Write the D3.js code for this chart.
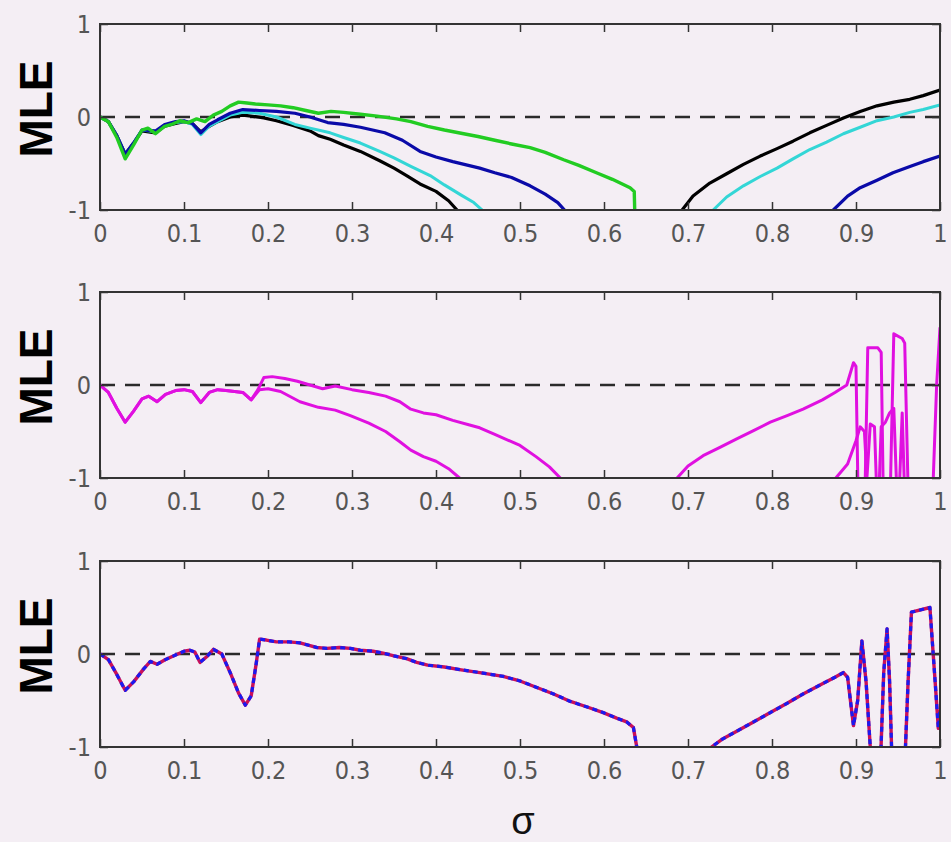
<!DOCTYPE html>
<html>
<head>
<meta charset="utf-8">
<script src="https://cdn.jsdelivr.net/npm/d3@7"></script>
<style>
  html, body { margin: 0; padding: 0; background: #f4eef4; }
  svg { display: block; }
  .tick text { font-family: "Liberation Sans Narrow", "Arial Narrow", "DejaVu Sans Condensed", sans-serif; font-size: 25px; fill: #555; }
</style>
</head>
<body>
<div id="chart"></div>
<script>
// tick values / labels
const xTicks = [0, 0.1, 0.2, 0.3, 0.4, 0.5, 0.6, 0.7, 0.8, 0.9, 1];
const xTickLabels = ["0", "0.1", "0.2", "0.3", "0.4", "0.5", "0.6", "0.7", "0.8", "0.9", "1"];
const yTicks = [-1, 0, 1];
const yTickLabels = ["-1", "0", "1"];

// panel 1 : [sigma, MLE]  (values below -1 run off the axes)
const p1Black = [[0,0],[0.01,-0.05],[0.02,-0.2],[0.03,-0.4],[0.04,-0.28],[0.05,-0.15],[0.066,-0.17],[0.077,-0.1],[0.09,-0.07],[0.1,-0.05],[0.11,-0.07],[0.12,-0.16],[0.13,-0.1],[0.14,-0.05],[0.155,0.0],[0.17,0.02],[0.18,0.01],[0.195,-0.01],[0.21,-0.04],[0.23,-0.09],[0.25,-0.15],[0.26,-0.2],[0.274,-0.24],[0.29,-0.3],[0.31,-0.37],[0.333,-0.47],[0.35,-0.55],[0.365,-0.63],[0.381,-0.72],[0.4,-0.8],[0.415,-0.9],[0.425,-1.0],[0.44,-1.5],[0.685,-1.5],[0.693,-1.0],[0.706,-0.85],[0.726,-0.71],[0.746,-0.61],[0.766,-0.51],[0.786,-0.42],[0.806,-0.34],[0.825,-0.26],[0.845,-0.17],[0.865,-0.09],[0.885,-0.01],[0.905,0.06],[0.925,0.12],[0.945,0.16],[0.964,0.19],[0.98,0.23],[1.0,0.29]];
const p1Cyan = [[0,0],[0.01,-0.05],[0.02,-0.2],[0.03,-0.4],[0.04,-0.28],[0.05,-0.14],[0.066,-0.16],[0.077,-0.09],[0.09,-0.06],[0.1,-0.05],[0.11,-0.08],[0.12,-0.19],[0.13,-0.1],[0.14,-0.05],[0.155,0.02],[0.17,0.05],[0.19,0.04],[0.21,0.0],[0.232,-0.08],[0.25,-0.12],[0.274,-0.17],[0.29,-0.22],[0.31,-0.28],[0.333,-0.37],[0.35,-0.44],[0.37,-0.53],[0.393,-0.63],[0.41,-0.73],[0.43,-0.84],[0.445,-0.92],[0.455,-1.0],[0.47,-1.5],[0.72,-1.5],[0.73,-1.0],[0.746,-0.86],[0.766,-0.74],[0.786,-0.64],[0.806,-0.55],[0.825,-0.45],[0.845,-0.35],[0.865,-0.27],[0.885,-0.18],[0.905,-0.11],[0.925,-0.04],[0.945,0.0],[0.964,0.05],[0.98,0.08],[1.0,0.13]];
const p1Blue = [[0,0],[0.01,-0.05],[0.02,-0.2],[0.03,-0.4],[0.04,-0.28],[0.05,-0.14],[0.066,-0.15],[0.077,-0.08],[0.09,-0.05],[0.1,-0.04],[0.11,-0.07],[0.12,-0.17],[0.13,-0.08],[0.14,-0.03],[0.155,0.04],[0.17,0.08],[0.19,0.07],[0.21,0.06],[0.232,0.04],[0.25,0.0],[0.271,-0.06],[0.29,-0.08],[0.31,-0.11],[0.339,-0.17],[0.36,-0.25],[0.381,-0.37],[0.4,-0.43],[0.42,-0.48],[0.452,-0.55],[0.47,-0.6],[0.49,-0.65],[0.512,-0.74],[0.53,-0.83],[0.545,-0.92],[0.553,-1.0],[0.56,-1.5],[0.865,-1.5],[0.873,-1.0],[0.89,-0.85],[0.905,-0.76],[0.925,-0.68],[0.944,-0.6],[0.965,-0.53],[0.98,-0.48],[1.0,-0.42]];
const p1Green = [[0,0],[0.01,-0.05],[0.02,-0.22],[0.03,-0.45],[0.04,-0.3],[0.05,-0.14],[0.057,-0.12],[0.066,-0.18],[0.077,-0.1],[0.085,-0.08],[0.095,-0.04],[0.105,-0.06],[0.115,-0.02],[0.125,-0.05],[0.135,0.02],[0.145,0.06],[0.155,0.12],[0.165,0.16],[0.175,0.15],[0.185,0.14],[0.2,0.13],[0.215,0.12],[0.23,0.1],[0.245,0.07],[0.26,0.04],[0.275,0.06],[0.29,0.05],[0.31,0.03],[0.33,0.01],[0.353,-0.02],[0.37,-0.05],[0.39,-0.1],[0.41,-0.14],[0.433,-0.18],[0.45,-0.21],[0.47,-0.25],[0.49,-0.29],[0.512,-0.33],[0.53,-0.38],[0.552,-0.46],[0.57,-0.52],[0.591,-0.6],[0.61,-0.67],[0.631,-0.76],[0.636,-0.8],[0.638,-1.5]];

// panel 2
const p2Upper = [[0,0],[0.01,-0.08],[0.02,-0.25],[0.03,-0.4],[0.04,-0.28],[0.05,-0.15],[0.058,-0.12],[0.068,-0.18],[0.078,-0.1],[0.09,-0.06],[0.1,-0.05],[0.11,-0.07],[0.12,-0.19],[0.13,-0.08],[0.14,-0.05],[0.15,-0.06],[0.16,-0.07],[0.17,-0.08],[0.18,-0.16],[0.188,-0.05],[0.195,0.08],[0.205,0.09],[0.22,0.07],[0.235,0.04],[0.25,0.0],[0.265,-0.04],[0.28,-0.01],[0.3,-0.05],[0.32,-0.08],[0.34,-0.12],[0.357,-0.18],[0.37,-0.26],[0.385,-0.3],[0.4,-0.32],[0.42,-0.38],[0.44,-0.43],[0.452,-0.46],[0.47,-0.53],[0.5,-0.65],[0.519,-0.77],[0.535,-0.88],[0.548,-1.0],[0.56,-1.5],[0.68,-1.5],[0.687,-1.0],[0.7,-0.87],[0.718,-0.76],[0.738,-0.67],[0.758,-0.58],[0.778,-0.49],[0.798,-0.4],[0.818,-0.33],[0.837,-0.26],[0.86,-0.16],[0.875,-0.08],[0.889,0.0],[0.897,0.24],[0.9,0.2],[0.903,-1.5],[0.91,-1.5],[0.914,0.4],[0.926,0.4],[0.93,0.35],[0.933,-1.5],[0.94,-1.5],[0.945,0.55],[0.955,0.5],[0.958,0.45],[0.963,-1.5],[0.99,-1.5],[0.996,0.0],[1.0,0.62]];
const p2Lower = [[0,0],[0.01,-0.08],[0.02,-0.25],[0.03,-0.4],[0.04,-0.28],[0.05,-0.15],[0.058,-0.12],[0.068,-0.18],[0.078,-0.1],[0.09,-0.06],[0.1,-0.05],[0.11,-0.07],[0.12,-0.19],[0.13,-0.08],[0.14,-0.05],[0.15,-0.06],[0.16,-0.07],[0.17,-0.08],[0.18,-0.16],[0.19,-0.05],[0.2,-0.04],[0.215,-0.07],[0.238,-0.18],[0.26,-0.24],[0.28,-0.27],[0.298,-0.33],[0.32,-0.41],[0.34,-0.5],[0.357,-0.61],[0.37,-0.7],[0.385,-0.77],[0.4,-0.82],[0.415,-0.9],[0.428,-1.0],[0.44,-1.5],[0.87,-1.5],[0.876,-1.0],[0.89,-0.85],[0.9,-0.6],[0.905,-0.45],[0.91,-0.5],[0.913,-1.0],[0.917,-0.42],[0.922,-0.45],[0.926,-1.5],[0.93,-0.45],[0.935,-0.4],[0.94,-0.3],[0.945,-0.25],[0.95,-1.5],[0.955,-0.3],[0.958,-1.2]];

// panel 3 (red and blue estimates lie on top of each other)
const p3Red = [[0,0],[0.01,-0.06],[0.02,-0.22],[0.03,-0.39],[0.04,-0.3],[0.052,-0.16],[0.06,-0.08],[0.068,-0.11],[0.078,-0.06],[0.09,-0.01],[0.1,0.03],[0.107,0.04],[0.113,0.02],[0.119,-0.09],[0.127,-0.03],[0.135,0.05],[0.145,0.0],[0.155,-0.2],[0.165,-0.42],[0.173,-0.55],[0.18,-0.45],[0.186,-0.1],[0.19,0.16],[0.198,0.15],[0.21,0.13],[0.225,0.13],[0.238,0.12],[0.25,0.09],[0.258,0.07],[0.27,0.06],[0.285,0.07],[0.298,0.06],[0.31,0.04],[0.325,0.03],[0.337,0.01],[0.35,-0.02],[0.365,-0.05],[0.377,-0.09],[0.39,-0.12],[0.41,-0.14],[0.43,-0.17],[0.452,-0.2],[0.48,-0.24],[0.5,-0.29],[0.52,-0.36],[0.54,-0.43],[0.56,-0.51],[0.58,-0.57],[0.599,-0.63],[0.615,-0.69],[0.627,-0.73],[0.635,-0.79],[0.639,-1.0],[0.645,-1.5],[0.72,-1.5],[0.728,-1.0],[0.74,-0.92],[0.758,-0.83],[0.778,-0.73],[0.798,-0.63],[0.818,-0.53],[0.837,-0.43],[0.86,-0.32],[0.875,-0.25],[0.885,-0.2],[0.89,-0.25],[0.897,-0.77],[0.902,-0.5],[0.907,0.14],[0.912,-0.3],[0.917,-1.0],[0.922,-1.5],[0.929,-1.2],[0.933,-0.2],[0.937,0.27],[0.94,-0.3],[0.943,-1.2],[0.958,-1.2],[0.962,-0.3],[0.966,0.45],[0.988,0.5],[0.994,-0.27],[0.998,-0.8],[1.0,-0.6]];
const p3Blue = p3Red.map(d => [d[0], d[1]]);

const panels = [
  {top: 24, series: [
    {data: p1Black, color: "#000000", width: 3.2},
    {data: p1Cyan, color: "#33d6d6", width: 3},
    {data: p1Blue, color: "#0a0aa8", width: 3.2},
    {data: p1Green, color: "#22cc22", width: 3.4}
  ]},
  {top: 292, series: [
    {data: p2Lower, color: "#e010e0", width: 3},
    {data: p2Upper, color: "#e010e0", width: 3}
  ]},
  {top: 561, series: [
    {data: p3Red, color: "#c8105a", width: 3.4},
    {data: p3Blue, color: "#1a1af0", width: 3.2, dash: "5,4"}
  ]}
];

const width = 951, height = 842;
const plotLeft = 100, plotRight = 940, plotH = 186;

const svg = d3.select("#chart").append("svg")
  .attr("width", width)
  .attr("height", height);

const xScale = d3.scaleLinear().domain([0, 1]).range([plotLeft, plotRight]);

panels.forEach((p, i) => {
  const yScale = d3.scaleLinear().domain([-1, 1]).range([p.top + plotH, p.top]);
  const g = svg.append("g").attr("class", "panelG");

  g.append("clipPath").attr("id", "clip" + i)
    .append("rect")
    .attr("x", plotLeft).attr("y", p.top)
    .attr("width", plotRight - plotLeft).attr("height", plotH);

  // zero reference
  g.append("line")
    .attr("x1", xScale(0)).attr("x2", xScale(1))
    .attr("y1", yScale(0)).attr("y2", yScale(0))
    .attr("stroke", "#2a2a2a").attr("stroke-width", 2.4)
    .attr("stroke-dasharray", "15,10");

  const line = d3.line()
    .x(d => xScale(d[0]))
    .y(d => yScale(d[1]));

  g.append("g").attr("clip-path", "url(#clip" + i + ")")
    .selectAll(".curve")
    .data(p.series)
    .join("path")
    .attr("class", "curve")
    .attr("d", d => line(d.data))
    .attr("fill", "none")
    .attr("stroke", d => d.color)
    .attr("stroke-width", d => d.width)
    .attr("stroke-linejoin", "round")
    .attr("stroke-dasharray", d => d.dash || null);

  // axes (ticks point inward)
  g.append("g")
    .attr("transform", "translate(0," + yScale(-1) + ")")
    .call(d3.axisBottom(xScale).tickValues(xTicks)
      .tickFormat((d, k) => xTickLabels[k]).tickSize(-8).tickPadding(14))
    .call(a => a.select(".domain").remove());
  g.append("g")
    .attr("transform", "translate(0," + yScale(1) + ")")
    .call(d3.axisTop(xScale).tickValues(xTicks).tickFormat("").tickSize(-8))
    .call(a => a.select(".domain").remove());
  g.append("g")
    .attr("transform", "translate(" + plotLeft + ",0)")
    .call(d3.axisLeft(yScale).tickValues(yTicks)
      .tickFormat((d, k) => yTickLabels[k]).tickSize(-8).tickPadding(9))
    .call(a => a.select(".domain").remove());
  g.append("g")
    .attr("transform", "translate(" + plotRight + ",0)")
    .call(d3.axisRight(yScale).tickValues(yTicks).tickFormat("").tickSize(-8))
    .call(a => a.select(".domain").remove());
  g.selectAll(".tick line").attr("stroke", "#333").attr("stroke-width", 1.5);

  g.append("rect")
    .attr("x", plotLeft).attr("y", p.top)
    .attr("width", plotRight - plotLeft).attr("height", plotH)
    .attr("fill", "none").attr("stroke", "#333").attr("stroke-width", 2);

  g.append("text")
    .attr("transform", "translate(52," + (p.top + plotH / 2 - 8) + ") rotate(-90)")
    .attr("text-anchor", "middle")
    .attr("font-family", "Liberation Sans, Arial, sans-serif")
    .attr("font-weight", "bold")
    .attr("font-size", 46)
    .attr("fill", "#000")
    .text("MLE");
});

svg.append("text")
  .attr("x", 523).attr("y", 834)
  .attr("text-anchor", "middle")
  .attr("font-family", "Liberation Sans, Arial, sans-serif")
  .attr("font-size", 38)
  .attr("fill", "#111")
  .text("σ");
</script>
</body>
</html>
